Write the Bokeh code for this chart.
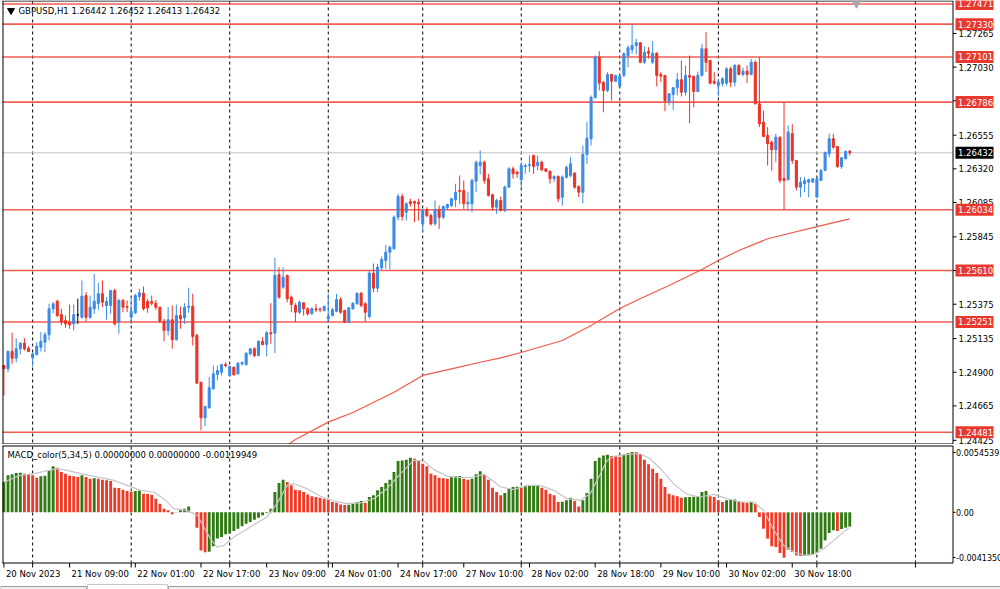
from bokeh.plotting import figure
from bokeh.models import Range1d, ColumnDataSource
from bokeh.layouts import column
from bokeh.embed import file_html
from bokeh.resources import INLINE
from bokeh.core.properties import value

# ---------------- DATA ----------------
opens = [1.24947,1.24924,1.25045,1.24998,1.25064,1.25103,1.25068,1.25001,1.25024,1.25075,
1.25110,1.25162,1.25343,1.25396,1.25303,1.25261,1.25250,1.25238,1.25301,1.25284,
1.25436,1.25284,1.25343,1.25380,1.25448,1.25366,1.25366,1.25471,1.25250,1.25401,
1.25359,1.25284,1.25315,1.25429,1.25452,1.25394,1.25394,1.25382,1.25354,1.25257,
1.25192,1.25266,1.25127,1.25296,1.25280,1.25354,1.25361,1.25157,1.24831,1.24582,
1.24652,1.24785,1.24885,1.24900,1.24954,1.24878,1.24935,1.24889,1.24959,1.24954,
1.25029,1.25064,1.25017,1.25115,1.25094,1.25176,1.25173,1.25582,1.25494,1.25576,
1.25424,1.25366,1.25319,1.25385,1.25343,1.25308,1.25343,1.25340,1.25331,1.25273,
1.25296,1.25326,1.25408,1.25331,1.25250,1.25343,1.25378,1.25452,1.25378,1.25289,
1.25592,1.25487,1.25629,1.25680,1.25738,1.25762,1.25982,1.26127,1.26017,1.26092,
1.26092,1.26087,1.25936,1.26034,1.25994,1.25936,1.26034,1.25982,1.26048,1.26064,
1.26104,1.26169,1.26169,1.26076,1.26076,1.26234,1.26343,1.26366,1.26251,1.26139,
1.26052,1.26099,1.26029,1.26192,1.26320,1.26297,1.26244,1.26336,1.26343,1.26413,
1.26343,1.26366,1.26320,1.26303,1.26251,1.26267,1.26122,1.26262,1.26274,1.26290,
1.26197,1.26157,1.26420,1.26530,1.26820,1.27099,1.26925,1.26867,1.26979,1.26932,
1.26895,1.26972,1.27111,1.27151,1.27181,1.27200,1.27064,1.27139,1.27064,1.27127,
1.26979,1.26972,1.26792,1.26839,1.26886,1.26942,1.26855,1.26972,1.26965,1.26860,
1.26972,1.27158,1.27076,1.26932,1.26902,1.26914,1.26918,1.27018,1.26925,1.27041,
1.26979,1.27002,1.26979,1.27064,1.26774,1.26646,1.26553,1.26506,1.26453,1.26541,
1.26253,1.26244,1.26565,1.26378,1.26192,1.26216,1.26227,1.26227,1.26122,1.26239,
1.26308,1.26425,1.26530,1.26476,1.26336,1.26390,1.26442]

highs = [1.24947,1.25052,1.25176,1.25136,1.25110,1.25138,1.25080,1.25040,1.25110,1.25180,
1.25180,1.25378,1.25389,1.25406,1.25343,1.25296,1.25373,1.25373,1.25413,1.25541,
1.25459,1.25436,1.25587,1.25525,1.25541,1.25424,1.25476,1.25483,1.25413,1.25413,
1.25401,1.25413,1.25448,1.25483,1.25499,1.25413,1.25436,1.25406,1.25359,1.25273,
1.25354,1.25366,1.25373,1.25359,1.25382,1.25490,1.25448,1.25169,1.24831,1.24668,
1.24866,1.24947,1.24947,1.24959,1.24970,1.24947,1.24940,1.24970,1.24970,1.25040,
1.25068,1.25075,1.25122,1.25145,1.25187,1.25382,1.25699,1.25633,1.25633,1.25582,
1.25436,1.25382,1.25401,1.25389,1.25354,1.25354,1.25378,1.25354,1.25366,1.25448,
1.25350,1.25448,1.25424,1.25336,1.25354,1.25389,1.25455,1.25459,1.25389,1.25610,
1.25659,1.25657,1.25708,1.25790,1.25785,1.25994,1.26146,1.26146,1.26087,1.26111,
1.26099,1.26111,1.26041,1.26052,1.26006,1.26099,1.26064,1.26064,1.26076,1.26118,
1.26216,1.26274,1.26239,1.26157,1.26251,1.26378,1.26448,1.26378,1.26285,1.26146,
1.26111,1.26127,1.26204,1.26331,1.26336,1.26308,1.26366,1.26355,1.26413,1.26420,
1.26413,1.26378,1.26320,1.26308,1.26274,1.26274,1.26274,1.26343,1.26401,1.26297,
1.26204,1.26483,1.26646,1.26832,1.27111,1.27141,1.26930,1.26995,1.26983,1.26976,
1.26972,1.27134,1.27181,1.27328,1.27228,1.27204,1.27174,1.27169,1.27211,1.27134,
1.26995,1.26976,1.26848,1.26890,1.26988,1.27076,1.27041,1.27111,1.26972,1.26999,
1.27193,1.27274,1.27081,1.26995,1.26948,1.26960,1.27029,1.27034,1.27053,1.27053,
1.27025,1.27041,1.27088,1.27076,1.27099,1.26727,1.26611,1.26518,1.26565,1.26546,
1.26785,1.26623,1.26634,1.26378,1.26262,1.26262,1.26251,1.26251,1.26262,1.26320,
1.26436,1.26565,1.26565,1.26476,1.26401,1.26443,1.26452]

lows = [1.24738,1.24900,1.24959,1.24970,1.25024,1.25052,1.25040,1.24940,1.25017,1.25045,
1.25040,1.25122,1.25312,1.25284,1.25227,1.25210,1.25204,1.25192,1.25238,1.25273,
1.25254,1.25273,1.25308,1.25336,1.25354,1.25266,1.25308,1.25227,1.25169,1.25319,
1.25319,1.25238,1.25308,1.25401,1.25331,1.25315,1.25366,1.25336,1.25243,1.25115,
1.25157,1.25064,1.25122,1.25204,1.25238,1.25315,1.25087,1.24820,1.24494,1.24524,
1.24645,1.24778,1.24843,1.24878,1.24935,1.24871,1.24878,1.24885,1.24947,1.24947,
1.25017,1.25005,1.25010,1.25087,1.25010,1.25099,1.25033,1.25413,1.25483,1.25389,
1.25319,1.25250,1.25308,1.25296,1.25296,1.25303,1.25319,1.25319,1.25324,1.25250,
1.25289,1.25319,1.25308,1.25243,1.25243,1.25336,1.25373,1.25354,1.25250,1.25275,
1.25459,1.25459,1.25615,1.25622,1.25615,1.25755,1.25959,1.25959,1.25959,1.26057,
1.25948,1.25959,1.25878,1.25982,1.25924,1.25924,1.25901,1.25971,1.26034,1.26052,
1.26052,1.26076,1.26041,1.26029,1.26017,1.26157,1.26281,1.26216,1.26127,1.26029,
1.26006,1.26022,1.26017,1.26188,1.26251,1.26257,1.26181,1.26285,1.26297,1.26285,
1.26308,1.26303,1.26297,1.26216,1.26227,1.26087,1.26064,1.26251,1.26262,1.26181,
1.26122,1.26080,1.26355,1.26483,1.26809,1.26867,1.26715,1.26855,1.26797,1.26925,
1.26890,1.26960,1.27029,1.27123,1.27118,1.27057,1.27053,1.27090,1.27053,1.26895,
1.26925,1.26722,1.26762,1.26732,1.26832,1.26825,1.26832,1.26639,1.26750,1.26855,
1.26965,1.26995,1.26909,1.26909,1.26825,1.26895,1.26902,1.26890,1.26895,1.26972,
1.26965,1.26918,1.26972,1.26769,1.26611,1.26541,1.26343,1.26308,1.26366,1.26220,
1.26033,1.26239,1.26355,1.26169,1.26122,1.26157,1.26122,1.26225,1.26122,1.26239,
1.26308,1.26401,1.26460,1.26327,1.26320,1.26390,1.26413]

closes = [1.24924,1.25045,1.24998,1.25064,1.25103,1.25064,1.25045,1.25029,1.25082,1.25115,
1.25162,1.25343,1.25378,1.25296,1.25250,1.25238,1.25231,1.25301,1.25301,1.25431,
1.25284,1.25354,1.25396,1.25448,1.25389,1.25396,1.25471,1.25238,1.25401,1.25354,
1.25354,1.25326,1.25436,1.25455,1.25343,1.25350,1.25382,1.25354,1.25257,1.25192,
1.25266,1.25127,1.25296,1.25273,1.25354,1.25361,1.25150,1.24824,1.24582,1.24661,
1.24792,1.24889,1.24912,1.24954,1.24945,1.24940,1.24882,1.24963,1.24970,1.25033,
1.25064,1.25017,1.25117,1.25094,1.25176,1.25169,1.25576,1.25424,1.25564,1.25413,
1.25373,1.25319,1.25389,1.25343,1.25308,1.25343,1.25336,1.25336,1.25359,1.25289,
1.25336,1.25408,1.25319,1.25250,1.25350,1.25382,1.25452,1.25366,1.25319,1.25593,
1.25487,1.25633,1.25687,1.25738,1.25773,1.25982,1.26127,1.25987,1.26076,1.26076,
1.26080,1.26076,1.26029,1.25994,1.25936,1.26034,1.25982,1.26057,1.26071,1.26111,
1.26157,1.26162,1.26076,1.26087,1.26239,1.26366,1.26366,1.26239,1.26134,1.26052,
1.26099,1.26029,1.26192,1.26320,1.26285,1.26285,1.26343,1.26343,1.26350,1.26336,
1.26366,1.26313,1.26303,1.26251,1.26267,1.26111,1.26262,1.26331,1.26355,1.26192,
1.26157,1.26420,1.26534,1.26820,1.27099,1.26918,1.26867,1.26979,1.26932,1.26972,
1.26967,1.27123,1.27165,1.27181,1.27200,1.27064,1.27134,1.27127,1.27127,1.26972,
1.26967,1.26797,1.26844,1.26886,1.26942,1.26855,1.26972,1.26960,1.26860,1.26972,
1.27158,1.27064,1.26918,1.26918,1.26925,1.26948,1.27018,1.26925,1.27041,1.26979,
1.27002,1.26979,1.27064,1.26774,1.26634,1.26546,1.26495,1.26453,1.26541,1.26239,
1.26239,1.26576,1.26378,1.26192,1.26227,1.26239,1.26244,1.26251,1.26251,1.26308,
1.26436,1.26530,1.26471,1.26336,1.26397,1.26443,1.26432]

# moving average
ma_x = [69, 71, 79, 85, 95, 102, 109, 116, 121, 126, 136, 143, 150, 154, 162, 170, 174, 179, 186, 198, 206]
ma_v = [1.24389, 1.24431, 1.24552, 1.24619, 1.24761, 1.24878, 1.24924, 1.24970, 1.25001, 1.25038, 1.25122,
        1.25227, 1.25345, 1.25401, 1.25506, 1.25617, 1.25680, 1.25750, 1.25832, 1.25917, 1.25971]

levels = [1.27471, 1.27330, 1.27101, 1.26786, 1.26034, 1.25610, 1.25251, 1.24481]
last_price = 1.26432
price_ticks = [1.24425, 1.24665, 1.24900, 1.25135, 1.25375, 1.25610, 1.25845, 1.26085,
               1.26320, 1.26555, 1.26795, 1.27030, 1.27265]

macd = [0.00255,0.00311,0.00320,0.00331,0.00334,0.00325,0.00322,0.00311,0.00292,0.00303,
0.00308,0.00348,0.00387,0.00376,0.00339,0.00325,0.00308,0.00303,0.00297,0.00311,
0.00297,0.00283,0.00286,0.00283,0.00275,0.00269,0.00264,0.00207,0.00205,0.00191,
0.00179,0.00171,0.00179,0.00182,0.00157,0.00154,0.00149,0.00115,0.00073,0.00031,
0.00017,-0.00017,0.00002,0.00017,0.00031,0.00050,0.00003,-0.00129,-0.00320,-0.00336,
-0.00331,-0.00286,-0.00221,-0.00207,-0.00185,-0.00179,-0.00157,-0.00137,-0.00118,-0.00095,
-0.00081,-0.00062,-0.00045,-0.00025,-0.00006,0.00031,0.00171,0.00247,0.00275,0.00255,
0.00227,0.00191,0.00185,0.00171,0.00151,0.00135,0.00129,0.00123,0.00115,0.00107,
0.00087,0.00081,0.00067,0.00062,0.00064,0.00073,0.00087,0.00095,0.00079,0.00129,
0.00143,0.00185,0.00213,0.00247,0.00275,0.00339,0.00432,0.00435,0.00443,0.00460,
0.00451,0.00432,0.00409,0.00387,0.00325,0.00311,0.00292,0.00286,0.00283,0.00297,
0.00303,0.00306,0.00283,0.00275,0.00283,0.00320,0.00345,0.00320,0.00275,0.00207,
0.00171,0.00143,0.00163,0.00199,0.00213,0.00216,0.00207,0.00219,0.00224,0.00227,
0.00230,0.00207,0.00191,0.00157,0.00143,0.00087,0.00090,0.00101,0.00123,0.00095,
0.00050,0.00101,0.00163,0.00283,0.00432,0.00460,0.00479,0.00485,0.00474,0.00471,
0.00468,0.00488,0.00499,0.00507,0.00505,0.00488,0.00443,0.00404,0.00367,0.00331,
0.00283,0.00213,0.00157,0.00143,0.00135,0.00123,0.00126,0.00129,0.00132,0.00135,
0.00171,0.00179,0.00135,0.00129,0.00101,0.00087,0.00101,0.00104,0.00107,0.00095,
0.00084,0.00079,0.00087,0.00073,-0.00039,-0.00137,-0.00221,-0.00286,-0.00292,-0.00342,
-0.00381,-0.00314,-0.00334,-0.00362,-0.00367,-0.00364,-0.00362,-0.00353,-0.00342,-0.00306,
-0.00236,-0.00174,-0.00151,-0.00157,-0.00140,-0.00129,-0.00120]

sig_x = [0, 4, 7.3, 13, 15.4, 19.5, 23.5, 26.8, 30, 33.3, 36.5, 38.9, 41.4, 44.6, 47.1, 48.7, 50.3,
         51.9, 53.6, 56, 60, 64.1, 66.5, 69, 70.6, 73.8, 77.1, 80.3, 83.6, 86.8, 90.1, 93.3, 96.6,
         99.8, 102.3, 104.7, 108, 111.2, 114.4, 116.9, 119.3, 120.9, 124.2, 127.4, 130.7, 133.9,
         137.2, 140.4, 142.8, 145.3, 146.9, 148.5, 151.8, 155, 157.4, 159.9, 163.1, 166.4, 169.6,
         172.9, 176.1, 179.4, 182.6, 185, 187.5, 189.9, 192.4, 194.8, 197.2, 199.7, 202.1, 205.8]
sig_v = [0.00255, 0.00311, 0.00325, 0.00367, 0.00353, 0.00320, 0.00292, 0.00269, 0.00227, 0.00185,
         0.00171, 0.00115, 0.00031, 0.00017, -0.00025, -0.00123, -0.00221, -0.00292, -0.00278, -0.00207,
         -0.00123, -0.00039, 0.00073, 0.00227, 0.00241, 0.00199, 0.00135, 0.00095, 0.00073, 0.00079,
         0.00115, 0.00199, 0.00325, 0.00437, 0.00432, 0.00359, 0.00303, 0.00292, 0.00297, 0.00320,
         0.00260, 0.00215, 0.00191, 0.00227, 0.00227, 0.00185, 0.00115, 0.00101, 0.00157, 0.00325,
         0.00437, 0.00471, 0.00488, 0.00493, 0.00451, 0.00367, 0.00241, 0.00151, 0.00129, 0.00151,
         0.00115, 0.00087, 0.00087, 0.00017, -0.00151, -0.00278, -0.00334, -0.00362, -0.00353, -0.00306,
         -0.00236, -0.00129]

macd_tick_labels = ["0.0054539", "0.00", "-0.0041350"]

time_idx = [0, 16, 32, 48, 64, 80, 96, 112, 128, 144, 160, 176, 192]
time_labels = ["20 Nov 2023", "21 Nov 09:00", "22 Nov 01:00", "22 Nov 17:00", "23 Nov 09:00",
               "24 Nov 01:00", "24 Nov 17:00", "27 Nov 10:00", "28 Nov 02:00", "28 Nov 18:00",
               "29 Nov 10:00", "30 Nov 02:00", "30 Nov 18:00"]
day_idx = [7, 31, 55, 79, 102, 126, 150, 174, 198, 222]

title_text = "GBPUSD,H1  1.26442 1.26452 1.26413 1.26432"
macd_text = "MACD_color(5,34,5) 0.00000000 0.00000000 -0.00119949"

# ---------------- STYLE / GEOMETRY ----------------
FONT = value("DejaVu Sans")
FS = value("8.5px")
FS_SMALL = value("8px")
BLUE = "#3b8be6"
RED = "#ee3225"
LEVEL = "#f04a40"
MA_COL = "#f0594b"
GREEN = "#2f7a12"
HRED = "#f03a27"
BOX = "#e8392f"

BAR_PX = 4.106
X0_PX = 3.4
PRICE_PX = 0.0000698
MACD_PX = 1.0 / 11889.0


def bx(px):            # horizontal pixel -> bar index
    return (px - X0_PX) / BAR_PX


def py(pxy):           # vertical pixel (main pane) -> price
    return 1.27495 - pxy * PRICE_PX


def my(pxy):           # vertical pixel (whole window) -> MACD value
    return 0.0054539 - (pxy - 447) * MACD_PX


xr = Range1d(bx(0), bx(1000))


def base_fig(h, yr):
    f = figure(width=1000, height=h, output_backend="svg", toolbar_location=None,
               x_range=xr, y_range=yr, x_axis_location=None, y_axis_location=None,
               min_border=0)
    f.outline_line_color = None
    f.xgrid.visible = False
    f.ygrid.visible = False
    f.background_fill_color = "white"
    f.border_fill_color = "white"
    return f


# ---------------- MAIN PRICE PANE ----------------
p = base_fig(444, Range1d(py(444), py(0)))

# day separators (dashed grid)
p.segment(x0=day_idx, x1=day_idx, y0=[py(1)] * len(day_idx), y1=[py(443)] * len(day_idx),
          line_color="black", line_width=1, line_dash="3 3")
# current price + horizontal levels
p.segment(x0=[bx(2)], x1=[bx(952)], y0=[last_price], y1=[last_price], line_color="#c4c4c4", line_width=1)
p.segment(x0=[bx(2)] * len(levels), x1=[bx(952)] * len(levels), y0=levels, y1=levels,
          line_color=LEVEL, line_width=1.6, line_alpha=0.9)
# moving average
p.line(ma_x, ma_v, line_color=MA_COL, line_width=1.2)

idx = list(range(len(closes)))
cols = [BLUE if c > o else (RED if c < o else "black") for o, c in zip(opens, closes)]
tops = [max(o, c) for o, c in zip(opens, closes)]
bots = [min(o, c) for o, c in zip(opens, closes)]
src = ColumnDataSource(dict(x=idx, h=highs, l=lows, top=tops, bot=bots, col=cols))
p.segment(x0="x", y0="l", x1="x", y1="h", line_color="col", line_width=1, source=src)
p.vbar(x="x", top="top", bottom="bot", width=0.5, fill_color="col", line_color="col",
       line_width=1, source=src)

# pane frame and price scale
p.segment(x0=[bx(2.5), bx(2), bx(2), bx(952.5)], x1=[bx(2.5), bx(952.5), bx(952.5), bx(952.5)],
          y0=[py(0.5), py(0.5), py(443.5), py(0.5)], y1=[py(443.5), py(0.5), py(443.5), py(443.5)],
          line_color="black", line_width=1)
p.segment(x0=[bx(952.5)] * len(price_ticks), x1=[bx(956)] * len(price_ticks),
          y0=price_ticks, y1=price_ticks, line_color="black", line_width=1)
shown = [t for t in price_ticks if min(abs(t - b) for b in levels + [last_price]) > 0.0003]
p.text(x=[bx(958)] * len(shown), y=shown, text=["%.5f" % t for t in shown],
       text_font=FONT, text_font_size=FS, text_color="black",
       text_baseline="middle", text_align="left")

# level price boxes
box_y = levels + [last_price]
box_c = [BOX] * len(levels) + ["black"]
p.quad(left=[bx(955)] * len(box_y), right=[bx(993)] * len(box_y),
       top=[v + 6 * PRICE_PX for v in box_y], bottom=[v - 6 * PRICE_PX for v in box_y],
       fill_color=box_c, line_color=None)
p.text(x=[bx(957.5)] * len(box_y), y=box_y, text=["%.5f" % v for v in box_y],
       text_font=FONT, text_font_size=FS, text_color="white",
       text_baseline="middle", text_align="left")

# title and markers
p.scatter(x=[bx(10.5)], y=[py(10)], marker="inverted_triangle", size=7, color="black")
p.scatter(x=[bx(856)], y=[py(2.5)], marker="inverted_triangle", size=9, color="#a8a8a8")
p.text(x=[bx(18)], y=[py(10.5)], text=[title_text], text_font=FONT, text_font_size=FS,
       text_color="black", text_baseline="middle", text_align="left")

# ---------------- MACD PANE (+ time scale + tabs) ----------------
m = base_fig(145, Range1d(my(589), my(444)))

m.segment(x0=day_idx, x1=day_idx, y0=[my(446)] * len(day_idx), y1=[my(562)] * len(day_idx),
          line_color="black", line_width=1, line_dash="3 3")

hcols = []
for k, v in enumerate(macd):
    prev = macd[k - 1] if k > 0 else v - 1
    hcols.append(GREEN if v > prev else HRED)
m.vbar(x=idx, top=macd, bottom=0, width=0.7, fill_color=hcols, line_color=None)
m.line(sig_x, sig_v, line_color="#c6c6c6", line_width=1.2)

# frame
m.segment(x0=[bx(2.5), bx(2), bx(2), bx(952.5)], x1=[bx(2.5), bx(952.5), bx(952.5), bx(952.5)],
          y0=[my(445.5), my(445.5), my(562.5), my(445.5)], y1=[my(562.5), my(445.5), my(562.5), my(562.5)],
          line_color="black", line_width=1)
# value scale
lab_y = [my(452), 0.0, my(557)]
m.segment(x0=[bx(952.5)] * 3, x1=[bx(955)] * 3, y0=lab_y, y1=lab_y, line_color="black", line_width=1)
m.text(x=[bx(955.5)] * 3, y=lab_y, text=macd_tick_labels, text_font=FONT, text_font_size=FS_SMALL,
       text_color="black", text_baseline="middle", text_align="left")
m.text(x=[bx(7)], y=[my(454)], text=[macd_text], text_font=FONT, text_font_size=FS,
       text_color="black", text_baseline="middle", text_align="left")

# time scale
tick_x = sorted(time_idx + day_idx)
m.segment(x0=tick_x, x1=tick_x, y0=[my(562.5)] * len(tick_x), y1=[my(567)] * len(tick_x),
          line_color="black", line_width=1)
m.text(x=time_idx, y=[my(573)] * len(time_idx), text=time_labels, x_offset=2,
       text_font=FONT, text_font_size=FS, text_color="black",
       text_baseline="middle", text_align="left")

# tab strip at the bottom
m.quad(left=[bx(0), bx(168)], right=[bx(86), bx(1001)], top=[my(586), my(586)],
       bottom=[my(591), my(591)], fill_color="#f0f0f0", line_color="#9a9a9a", line_width=1)
m.quad(left=[bx(87)], right=[bx(167)], top=[my(584)], bottom=[my(591)],
       fill_color="white", line_color="#c8c8c8", line_width=1)

layout = column(p, m, spacing=0)
open("out.html", "w").write(file_html(layout, INLINE, title="GBPUSD,H1"))
